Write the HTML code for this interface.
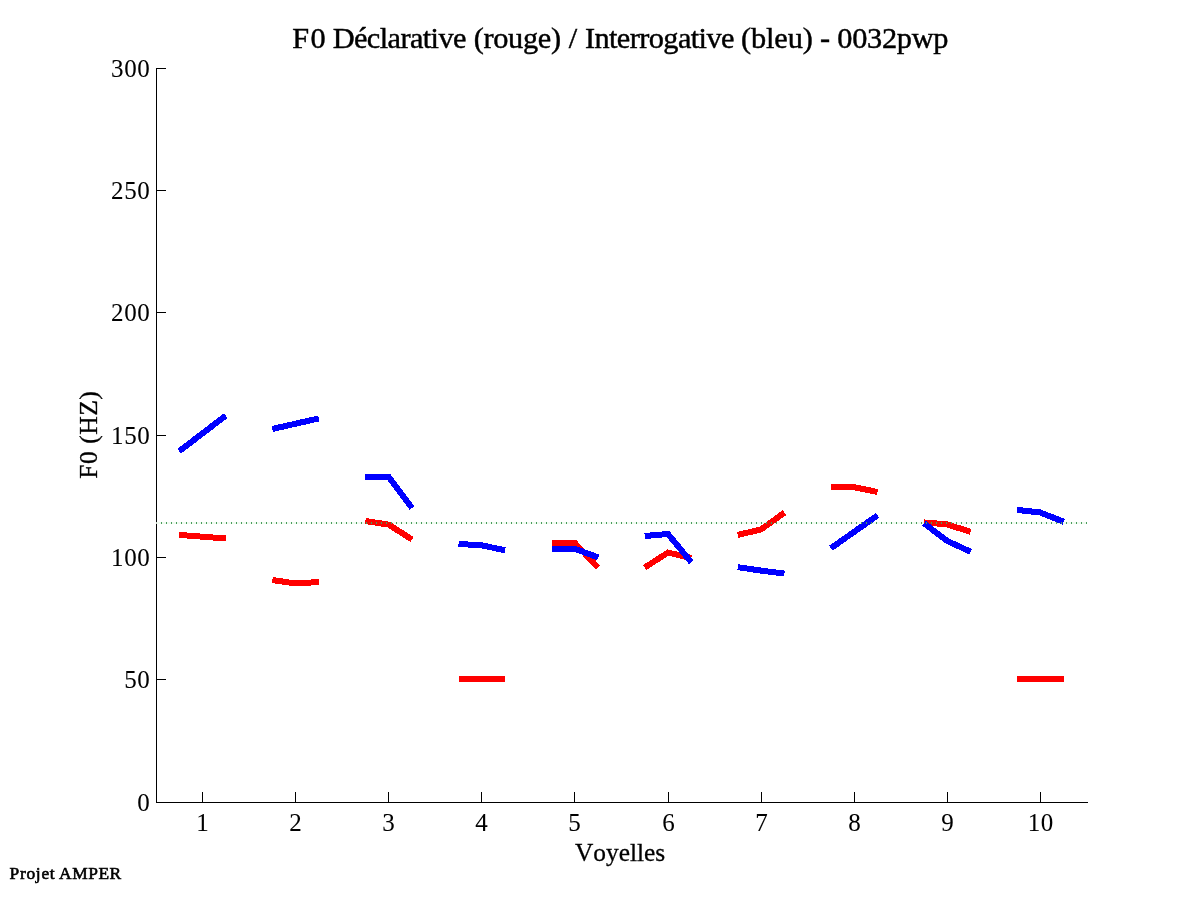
<!DOCTYPE html>
<html><head><meta charset="utf-8"><style>
html,body{margin:0;padding:0;background:#fff;}
svg{display:block;will-change:transform;}
text{font-family:"Liberation Serif",serif;fill:#000;font-kerning:none;stroke:#000;}
</style></head><body>
<svg width="1201" height="901" viewBox="0 0 1201 901">
<rect width="1201" height="901" fill="#fff"/>
<g fill="none" stroke-width="6" stroke-linecap="butt" stroke-linejoin="miter" shape-rendering="crispEdges">
<polyline points="179.2,534.9 202.5,536.7 225.8,538.5" stroke="#f00"/>
<polyline points="272.3,580 295.6,583.5 318.9,582" stroke="#f00"/>
<polyline points="365.4,521 388.7,524.6 412.0,539.5" stroke="#f00"/>
<polyline points="458.5,679 481.8,679 505.1,679" stroke="#f00"/>
<polyline points="551.6,543.1 574.9,543.1 598.2,567.7" stroke="#f00"/>
<polyline points="644.7,567.5 668.0,552.6 691.3,558" stroke="#f00"/>
<polyline points="737.8,534.9 761.1,529.4 784.4,512.7" stroke="#f00"/>
<polyline points="830.9,486.8 854.2,487.2 877.5,492" stroke="#f00"/>
<polyline points="924.0,522.4 947.3,524.4 970.6,531.9" stroke="#f00"/>
<polyline points="1017.1,679 1040.4,679 1063.7,679" stroke="#f00"/>
<polyline points="179.2,451.2 202.5,433.4 225.8,415.6" stroke="#00f"/>
<polyline points="272.3,429 295.6,423.7 318.9,418.4" stroke="#00f"/>
<polyline points="365.4,476.8 388.7,476.8 412.0,508" stroke="#00f"/>
<polyline points="458.5,544 481.8,545.3 505.1,550.3" stroke="#00f"/>
<polyline points="551.6,548.9 574.9,548.9 598.2,557.4" stroke="#00f"/>
<polyline points="644.7,536 668.0,534 691.3,562.3" stroke="#00f"/>
<polyline points="737.8,567.2 761.1,570.6 784.4,573.6" stroke="#00f"/>
<polyline points="830.9,548.2 854.2,531.8 877.5,515.4" stroke="#00f"/>
<polyline points="924.0,523.3 947.3,541 970.6,551.7" stroke="#00f"/>
<polyline points="1017.1,509.9 1040.4,512.5 1063.7,521.8" stroke="#00f"/>
</g>
<g stroke="#000" stroke-width="1" fill="none" shape-rendering="crispEdges">
<path d="M156.5 68V803M156 802.5H1088"/>
<path d="M157 802.5H166"/>
<path d="M157 679.5H166"/>
<path d="M157 557.5H166"/>
<path d="M157 435.5H166"/>
<path d="M157 312.5H166"/>
<path d="M157 190.5H166"/>
<path d="M157 68.5H166"/>
<path d="M202.5 792V802"/>
<path d="M295.5 792V802"/>
<path d="M388.5 792V802"/>
<path d="M481.5 792V802"/>
<path d="M574.5 792V802"/>
<path d="M668.5 792V802"/>
<path d="M761.5 792V802"/>
<path d="M854.5 792V802"/>
<path d="M947.5 792V802"/>
<path d="M1040.5 792V802"/>
</g>
<rect x="157" y="522" width="930" height="2" fill="#00c000" fill-opacity="0.06"/><path d="M161 522h1v2h-1zM166 522h1v2h-1zM171 522h1v2h-1zM176 522h1v2h-1zM181 522h1v2h-1zM186 522h1v2h-1zM191 522h1v2h-1zM196 522h1v2h-1zM201 522h1v2h-1zM206 522h1v2h-1zM211 522h1v2h-1zM216 522h1v2h-1zM221 522h1v2h-1zM226 522h1v2h-1zM231 522h1v2h-1zM236 522h1v2h-1zM241 522h1v2h-1zM246 522h1v2h-1zM251 522h1v2h-1zM256 522h1v2h-1zM261 522h1v2h-1zM266 522h1v2h-1zM271 522h1v2h-1zM276 522h1v2h-1zM281 522h1v2h-1zM286 522h1v2h-1zM291 522h1v2h-1zM296 522h1v2h-1zM301 522h1v2h-1zM306 522h1v2h-1zM311 522h1v2h-1zM316 522h1v2h-1zM321 522h1v2h-1zM326 522h1v2h-1zM331 522h1v2h-1zM336 522h1v2h-1zM341 522h1v2h-1zM346 522h1v2h-1zM351 522h1v2h-1zM356 522h1v2h-1zM361 522h1v2h-1zM366 522h1v2h-1zM371 522h1v2h-1zM376 522h1v2h-1zM381 522h1v2h-1zM386 522h1v2h-1zM391 522h1v2h-1zM396 522h1v2h-1zM401 522h1v2h-1zM406 522h1v2h-1zM411 522h1v2h-1zM416 522h1v2h-1zM421 522h1v2h-1zM426 522h1v2h-1zM431 522h1v2h-1zM436 522h1v2h-1zM441 522h1v2h-1zM446 522h1v2h-1zM451 522h1v2h-1zM456 522h1v2h-1zM461 522h1v2h-1zM466 522h1v2h-1zM471 522h1v2h-1zM476 522h1v2h-1zM481 522h1v2h-1zM486 522h1v2h-1zM491 522h1v2h-1zM496 522h1v2h-1zM501 522h1v2h-1zM506 522h1v2h-1zM511 522h1v2h-1zM516 522h1v2h-1zM521 522h1v2h-1zM526 522h1v2h-1zM531 522h1v2h-1zM536 522h1v2h-1zM541 522h1v2h-1zM546 522h1v2h-1zM551 522h1v2h-1zM556 522h1v2h-1zM561 522h1v2h-1zM566 522h1v2h-1zM571 522h1v2h-1zM576 522h1v2h-1zM581 522h1v2h-1zM586 522h1v2h-1zM591 522h1v2h-1zM596 522h1v2h-1zM601 522h1v2h-1zM606 522h1v2h-1zM611 522h1v2h-1zM616 522h1v2h-1zM621 522h1v2h-1zM626 522h1v2h-1zM631 522h1v2h-1zM636 522h1v2h-1zM641 522h1v2h-1zM646 522h1v2h-1zM651 522h1v2h-1zM656 522h1v2h-1zM661 522h1v2h-1zM666 522h1v2h-1zM671 522h1v2h-1zM676 522h1v2h-1zM681 522h1v2h-1zM686 522h1v2h-1zM691 522h1v2h-1zM696 522h1v2h-1zM701 522h1v2h-1zM706 522h1v2h-1zM711 522h1v2h-1zM716 522h1v2h-1zM721 522h1v2h-1zM726 522h1v2h-1zM731 522h1v2h-1zM736 522h1v2h-1zM741 522h1v2h-1zM746 522h1v2h-1zM751 522h1v2h-1zM756 522h1v2h-1zM761 522h1v2h-1zM766 522h1v2h-1zM771 522h1v2h-1zM776 522h1v2h-1zM781 522h1v2h-1zM786 522h1v2h-1zM791 522h1v2h-1zM796 522h1v2h-1zM801 522h1v2h-1zM806 522h1v2h-1zM811 522h1v2h-1zM816 522h1v2h-1zM821 522h1v2h-1zM826 522h1v2h-1zM831 522h1v2h-1zM836 522h1v2h-1zM841 522h1v2h-1zM846 522h1v2h-1zM851 522h1v2h-1zM856 522h1v2h-1zM861 522h1v2h-1zM866 522h1v2h-1zM871 522h1v2h-1zM876 522h1v2h-1zM881 522h1v2h-1zM886 522h1v2h-1zM891 522h1v2h-1zM896 522h1v2h-1zM901 522h1v2h-1zM906 522h1v2h-1zM911 522h1v2h-1zM916 522h1v2h-1zM921 522h1v2h-1zM926 522h1v2h-1zM931 522h1v2h-1zM936 522h1v2h-1zM941 522h1v2h-1zM946 522h1v2h-1zM951 522h1v2h-1zM956 522h1v2h-1zM961 522h1v2h-1zM966 522h1v2h-1zM971 522h1v2h-1zM976 522h1v2h-1zM981 522h1v2h-1zM986 522h1v2h-1zM991 522h1v2h-1zM996 522h1v2h-1zM1001 522h1v2h-1zM1006 522h1v2h-1zM1011 522h1v2h-1zM1016 522h1v2h-1zM1021 522h1v2h-1zM1026 522h1v2h-1zM1031 522h1v2h-1zM1036 522h1v2h-1zM1041 522h1v2h-1zM1046 522h1v2h-1zM1051 522h1v2h-1zM1056 522h1v2h-1zM1061 522h1v2h-1zM1066 522h1v2h-1zM1071 522h1v2h-1zM1076 522h1v2h-1zM1081 522h1v2h-1zM1086 522h1v2h-1z" fill="#4a9c5c"/><rect x="156" y="522" width="1" height="2" fill="#c4cec4"/>
<g font-size="25" stroke-width="0.05">
<text x="143.6" y="810.6" text-anchor="middle">0</text>
<text x="130.4" y="687.6" text-anchor="middle">5</text>
<text x="143.6" y="687.6" text-anchor="middle">0</text>
<text x="117.2" y="565.6" text-anchor="middle">1</text>
<text x="130.4" y="565.6" text-anchor="middle">0</text>
<text x="143.6" y="565.6" text-anchor="middle">0</text>
<text x="117.2" y="443.6" text-anchor="middle">1</text>
<text x="130.4" y="443.6" text-anchor="middle">5</text>
<text x="143.6" y="443.6" text-anchor="middle">0</text>
<text x="117.2" y="320.6" text-anchor="middle">2</text>
<text x="130.4" y="320.6" text-anchor="middle">0</text>
<text x="143.6" y="320.6" text-anchor="middle">0</text>
<text x="117.2" y="198.6" text-anchor="middle">2</text>
<text x="130.4" y="198.6" text-anchor="middle">5</text>
<text x="143.6" y="198.6" text-anchor="middle">0</text>
<text x="117.2" y="76.6" text-anchor="middle">3</text>
<text x="130.4" y="76.6" text-anchor="middle">0</text>
<text x="143.6" y="76.6" text-anchor="middle">0</text>
<text x="202.5" y="831" text-anchor="middle">1</text>
<text x="295.5" y="831" text-anchor="middle">2</text>
<text x="388.5" y="831" text-anchor="middle">3</text>
<text x="481.5" y="831" text-anchor="middle">4</text>
<text x="574.5" y="831" text-anchor="middle">5</text>
<text x="668.5" y="831" text-anchor="middle">6</text>
<text x="761.5" y="831" text-anchor="middle">7</text>
<text x="854.5" y="831" text-anchor="middle">8</text>
<text x="947.5" y="831" text-anchor="middle">9</text>
<text x="1033.9" y="831" text-anchor="middle">1</text>
<text x="1047.1" y="831" text-anchor="middle">0</text>
</g>
<g transform="translate(0,48) scale(1,1.0)" font-size="30.3" stroke-width="0.45"><text x="292.13" y="0" textLength="33.53" lengthAdjust="spacing">F0</text><text x="332.63" y="0" textLength="133.82" lengthAdjust="spacing">Déclarative</text><text x="473.67" y="0" textLength="87.36" lengthAdjust="spacing">(rouge)</text><text x="568.70" y="0">/</text><text x="584.91" y="0" textLength="149.55" lengthAdjust="spacing">Interrogative</text><text x="741.07" y="0" textLength="71.76" lengthAdjust="spacing">(bleu)</text><text x="820.08" y="0">-</text><text x="837.35" y="0" textLength="111.04" lengthAdjust="spacing">0032pwp</text></g>
<g stroke-width="0.3"><text x="575" y="860.5" font-size="25.4">Voyelles</text>
<g transform="translate(97,478.7) rotate(-90)"><text x="0" y="0" font-size="25.6" textLength="87.6" lengthAdjust="spacing">F0 (HZ)</text></g></g>
<g stroke-width="0.6"><text x="9.5" y="879" font-size="17.4" textLength="45.2" lengthAdjust="spacing">Projet</text>
<text x="59" y="879" font-size="17.4" textLength="62.2" lengthAdjust="spacing">AMPER</text></g>
</svg>
</body></html>
